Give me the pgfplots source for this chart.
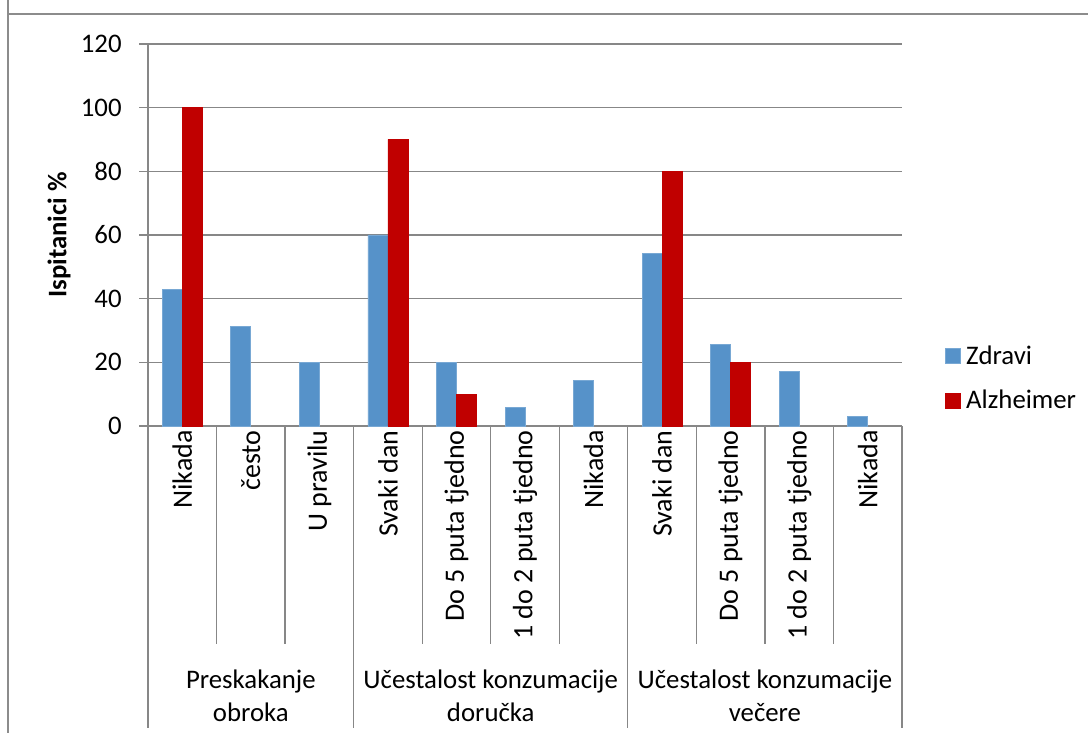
\documentclass[border=0pt]{standalone}
\usepackage{fontspec}
\setmainfont{Carlito}
\usepackage{pgfplots}
\pgfplotsset{compat=1.18}
\definecolor{zdr}{HTML}{5692C9}
\definecolor{alz}{HTML}{C00000}
\definecolor{gridc}{HTML}{878787}
\definecolor{framec}{HTML}{8C8C8C}
\newcommand{\fs}{\fontsize{13.4bp}{16.5bp}\selectfont}
\newcommand{\fx}{\fontsize{14bp}{16.5bp}\selectfont}
\begin{document}
\begin{tikzpicture}
\path[use as bounding box, fill=white] (0,0) rectangle (544bp,366.5bp);
\draw[framec, line width=0.6bp] (4bp,366.5bp) -- (4bp,359.5bp) -- (544bp,359.5bp);
\draw[framec, line width=0.6bp] (4bp,0) -- (4bp,359.5bp);
\begin{axis}[
  at={(74bp,153.5bp)}, anchor=origin,
  scale only axis, width=377bp, height=191bp,
  xmin=0, xmax=11, ymin=0, ymax=120,
  ytick={0,20,...,120},
  xtick={0.5,1.5,...,10.5},
  xticklabels={Nikada,često,U pravilu,Svaki dan,Do 5 puta tjedno,1 do 2 puta tjedno,Nikada,Svaki dan,Do 5 puta tjedno,1 do 2 puta tjedno,Nikada},
  axis lines*=left,
  axis line style={gridc, line width=0.6bp, -},
  ymajorgrids, grid style={gridc, line width=0.6bp},
  tick align=outside, major tick length=4.5bp,
  major x tick style={draw=none},
  y tick style={gridc, line width=0.6bp},
  /pgf/number format/assume math mode=true,
  y tick label style={inner sep=0pt, font=\fs},
  yticklabel shift=8.5bp,
  x tick label style={rotate=90, anchor=east, inner sep=0pt, font=\fx},
  xticklabel shift=-2.5bp,
  ybar=0pt, bar width=10bp,
  ylabel={\bfseries Ispitanici \%},
  every axis y label/.style={at={(axis description cs:-0.118,0.5)}, rotate=90, anchor=center, font=\fs},
  legend style={draw=none, fill=none, at={(axis description cs:1.057,0.124)}, anchor=west, inner sep=0pt, row sep=11.5bp, font=\fs, nodes={inner sep=0pt}},
  legend cell align=left,
  legend image code/.code={\fill[#1] (0bp,-3.75bp) rectangle (7.5bp,3.75bp);},
  /tikz/every odd column/.append style={column sep=2.5bp},
  clip=false,
]
\addplot[fill=zdr, draw=zdr!80!white, line width=0.4bp] coordinates {
 (0.5,42.9) (1.5,31.4) (2.5,20) (3.5,60) (4.5,20) (5.5,5.7) (6.5,14.3) (7.5,54.3) (8.5,25.7) (9.5,17.1) (10.5,2.9)};
\addlegendentry{Zdravi}
\addplot[fill=alz, draw=alz, line width=0.4bp] coordinates {
 (0.5,100) (3.5,90) (4.5,10) (7.5,80) (8.5,20)};
\addlegendentry{Alzheimer}
\pgfplotsinvokeforeach{1,2,4,5,6,8,9,10}{
  \draw[gridc, line width=0.6bp] (axis cs:#1,0) -- ++(0,-109bp);
}
\pgfplotsinvokeforeach{0,3,7,11}{
  \draw[gridc, line width=0.6bp] (axis cs:#1,0) -- ++(0,-151bp);
}
\node[font=\fs, align=center, anchor=center] at ([yshift=-134.75bp]axis cs:1.5,0) {Preskakanje\\obroka};
\node[font=\fs, align=center, anchor=center] at ([yshift=-134.75bp]axis cs:5,0) {Učestalost konzumacije\\doručka};
\node[font=\fs, align=center, anchor=center] at ([yshift=-134.75bp]axis cs:9,0) {Učestalost konzumacije\\večere};
\end{axis}
\end{tikzpicture}
\end{document}
